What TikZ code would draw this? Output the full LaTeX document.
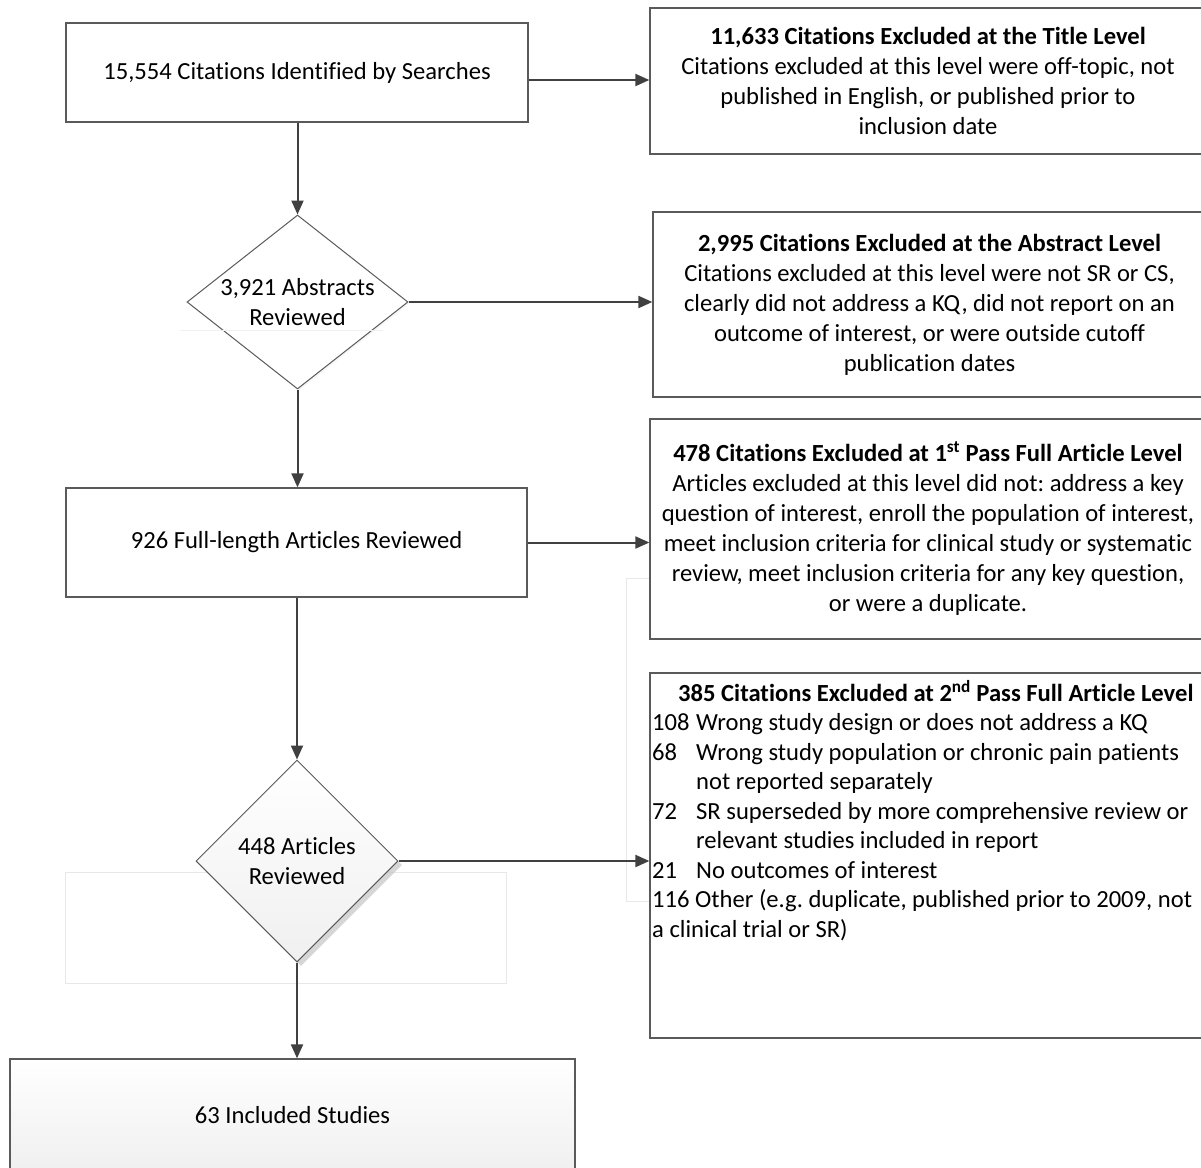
\documentclass[tikz,border=0pt]{standalone}
\usepackage{fontspec}
\setmainfont{Carlito}[Ligatures={NoCommon}]
\usetikzlibrary{arrows.meta,shapes.geometric,shadows,calc}
\definecolor{ln}{HTML}{404040}
\definecolor{bd}{HTML}{5A5A5A}
\definecolor{faint}{HTML}{E8E8E8}
\begin{document}
\frenchspacing
\begin{tikzpicture}[x=1pt,y=-1pt,
  font=\fontsize{24.6}{30}\selectfont,
  box/.style={draw=bd, line width=1.3pt, fill=white, rectangle, inner sep=0pt, align=center},
  dia/.style={draw=bd, line width=1pt, fill=white, shape=diamond, inner sep=-30pt, align=center},
  arr/.style={draw=ln, line width=2pt, -{Triangle[length=14pt,width=12pt]}},
  faintline/.style={draw=faint, line width=1pt}
]
\clip (0,0) rectangle (1201,1167);
\fill[white] (0,0) rectangle (1201,1167);

% faint background rectangles
\draw[faintline] (626,578) rectangle (1230,901);
\draw[faintline] (65,872) rectangle (506,983);

% boxes
\node[box, minimum width=462pt, minimum height=99pt] (b1) at (297,72.5)
  {15,554 Citations Identified by Searches};
\node[box, minimum width=556pt, minimum height=146pt] (b2) at (928,81)
  {\textbf{11,633 Citations Excluded at the Title Level}\\
   Citations excluded at this level were off-topic, not\\
   published in English, or published prior to\\
   inclusion date};
\node[dia, minimum width=221pt, minimum height=174pt,
  drop shadow={shadow xshift=1.5pt, shadow yshift=-1.5pt, fill=gray!15, opacity=0.5}] (d1) at (297.5,302)
  {3,921 Abstracts\\Reviewed};
\draw[draw=gray!12, line width=0.8pt] (180,330) -- (383,330);
\node[box, minimum width=553pt, minimum height=185pt] (b3) at (929.5,304.5)
  {\textbf{2,995 Citations Excluded at the Abstract Level}\\
   Citations excluded at this level were not SR or CS,\\
   clearly did not address a KQ, did not report on an\\
   outcome of interest, or were outside cutoff\\
   publication dates};
\node[box, minimum width=461pt, minimum height=109pt] (b4) at (296.5,542.5)
  {926 Full-length Articles Reviewed};
\node[box, minimum width=556pt, minimum height=220pt] (b5) at (928,529)
  {\textbf{478 Citations Excluded at 1\textsuperscript{st} Pass Full Article Level}\\
   Articles excluded at this level did not: address a key\\
   question of interest, enroll the population of interest,\\
   meet inclusion criteria for clinical study or systematic\\
   review, meet inclusion criteria for any key question,\\
   or were a duplicate.};
\node[dia, minimum width=202pt, minimum height=202pt, top color=white, bottom color=gray!12,
  drop shadow={shadow xshift=4pt, shadow yshift=-4pt, fill=gray!45, opacity=0.7}] (d2) at (297,861)
  {448 Articles\\Reviewed};
\node[box, minimum width=556pt, minimum height=365pt] (b6) at (928,855.5) {};
\node[anchor=north west, align=left, inner sep=0pt,
  font=\fontsize{24.6}{29.5}\selectfont] (b6t) at (652,680)
  {\hspace*{26pt}\textbf{385 Citations Excluded at 2\textsuperscript{nd} Pass Full Article Level}\\
   \makebox[44pt][l]{108}Wrong study design or does not address a KQ\\
   \makebox[44pt][l]{68}Wrong study population or chronic pain patients\\
   \hspace*{44pt}not reported separately\\
   \makebox[44pt][l]{72}SR superseded by more comprehensive review or\\
   \hspace*{44pt}relevant studies included in report\\
   \makebox[44pt][l]{21}No outcomes of interest\\
   116 Other (e.g. duplicate, published prior to 2009, not\\
   a clinical trial or SR)};
\node[box, minimum width=565pt, minimum height=112pt, top color=white, bottom color=gray!12] (b7) at (292.5,1115)
  {63 Included Studies};

% connectors
\draw[arr] ([yshift=-7.5pt]b1.east) -- ([yshift=-7.5pt]b1.east -| b2.west);
\draw[arr] (b1.south -| d1.north) -- (d1.north);
\draw[arr] (d1.east) -- (d1.east -| b3.west);
\draw[arr] (d1.south) -- (d1.south |- b4.north);
\draw[arr] (b4.east) -- (b4.east -| b5.west);
\draw[arr] (b4.south -| d2.north) -- (d2.north);
\draw[arr] (d2.east) -- (d2.east -| b6.west);
\draw[arr] (d2.south) -- (d2.south |- b7.north);
\end{tikzpicture}
\end{document}
